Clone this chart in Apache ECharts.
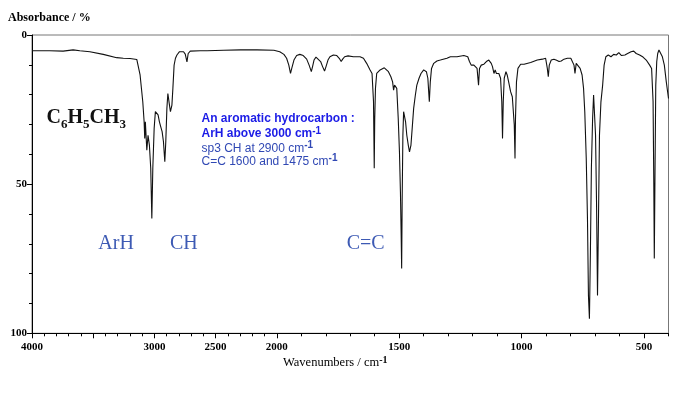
<!DOCTYPE html>
<html>
<head>
<meta charset="utf-8">
<script src="https://cdn.jsdelivr.net/npm/echarts@6/dist/echarts.min.js"></script>
<style>
  html, body { margin: 0; padding: 0; background: #fff; }
  #chart { width: 685px; height: 397px; }
</style>
</head>
<body>
<div id="chart"></div>
<script>
// IR spectrum of toluene, wavenumber (cm-1) vs absorbance (%)
const wavenumbers = [
  4000, 3855, 3746, 3664, 3609, 3527, 3418, 3308, 3254, 3199, 3144, 3139, 3117, 3095, 3084, 3079, 3074, 3062, 3052, 3041,
  3030, 3021, 3013, 3002, 2992, 2980, 2970, 2959, 2948, 2937, 2926, 2915, 2907, 2898, 2890, 2882, 2877, 2869, 2857, 2849,
  2839, 2828, 2816, 2795, 2762, 2748, 2734, 2724, 2707, 2625, 2570, 2434, 2297, 2161, 2024,
  1988, 1971, 1960, 1951, 1944, 1939, 1930, 1919, 1906, 1892, 1878, 1868, 1859, 1854, 1848, 1840, 1832, 1821, 1813, 1805,
  1799, 1791, 1783, 1769, 1755, 1745, 1737, 1731, 1723, 1709, 1687, 1660, 1646, 1633, 1619, 1611, 1605, 1602, 1600, 1597,
  1592, 1585, 1578, 1570, 1561, 1553, 1544, 1534, 1527, 1523, 1519, 1515, 1510, 1504, 1499, 1495, 1492, 1490, 1488, 1485,
  1482, 1478, 1474, 1469, 1463, 1458, 1452, 1447, 1441, 1434, 1428, 1419, 1411, 1400, 1389, 1383, 1377, 1373, 1368, 1359,
  1346, 1332, 1305, 1291, 1264, 1236, 1220, 1213, 1206, 1201, 1195, 1189, 1182, 1176, 1172, 1165, 1154, 1144, 1134, 1124,
  1119, 1113, 1108, 1103, 1097, 1093, 1086, 1081, 1078, 1075, 1071, 1064, 1059, 1053, 1045, 1038, 1034, 1030, 1027, 1025,
  1021, 1015, 1004, 990, 963, 936, 915, 902, 895, 891, 887, 879, 868, 857, 847, 838, 827, 813, 799, 792,
  786, 782, 777, 769, 761, 753, 747, 742, 736, 731, 727, 723, 719, 715, 710, 706, 702, 698, 694, 690,
  686, 682, 676, 669, 663, 656, 646, 635, 624, 613, 603, 592, 578, 567, 553, 542, 532, 518, 504, 491,
  477, 469, 463, 460, 458, 455, 452, 448, 444, 439, 433, 425, 417, 409, 400
];
const absorbance = [
  5.3, 5.3, 5.4, 5.0, 5.3, 5.6, 6.5, 7.6, 7.8, 7.9, 8.2, 8.4, 13.4, 22.4, 29.1, 34.7, 29.1, 38.6, 33.6, 36.9,
  44.7, 61.5, 44.7, 31.3, 25.7, 26.3, 26.8, 29.1, 30.8, 32.4, 35.8, 42.5, 35.8, 24.6, 19.6, 20.1, 23.5, 25.7, 23.5, 17.9,
  10.1, 7.8, 6.7, 5.6, 5.6, 6.4, 9.0, 6.2, 5.4, 5.3, 5.3, 5.1, 5.0, 5.0, 5.1,
  5.6, 6.5, 7.8, 10.1, 12.9, 11.2, 8.4, 6.9, 6.5, 6.9, 8.1, 10.1, 12.3, 10.6, 8.4, 7.4, 7.6, 8.9, 10.6, 12.1,
  10.6, 8.4, 7.3, 6.7, 6.9, 7.8, 8.9, 8.1, 7.3, 7.0, 7.3, 7.3, 7.8, 9.5, 11.7, 12.9, 22.4, 44.7, 28.0, 17.9,
  12.9, 13.4, 11.7, 12.3, 11.0, 11.2, 12.3, 14.0, 15.7, 18.5, 16.8, 16.2, 17.9, 28.0, 39.2, 52.6, 67.1, 78.3, 55.9, 33.6,
  25.7, 26.3, 29.1, 33.6, 36.9, 39.2, 36.9, 31.3, 24.6, 20.1, 16.8, 14.5, 12.9, 11.7, 12.3, 14.5, 22.4, 15.7, 11.2, 9.5,
  8.7, 8.4, 7.8, 7.3, 7.3, 6.9, 7.3, 8.9, 10.1, 10.6, 10.1, 9.8, 11.2, 16.8, 11.2, 10.1, 9.8, 8.9, 8.4, 9.5,
  10.6, 12.9, 11.7, 12.9, 13.4, 12.9, 14.5, 22.4, 34.7, 22.4, 14.5, 12.3, 13.4, 15.7, 19.0, 20.7, 21.3, 30.2, 41.4, 28.0,
  15.7, 11.2, 9.8, 9.8, 9.2, 8.4, 8.1, 7.8, 11.2, 14.0, 10.1, 8.4, 8.1, 8.5, 8.9, 8.7, 8.1, 7.8, 7.8, 7.4,
  10.1, 12.9, 9.5, 10.1, 11.2, 13.4, 17.9, 25.7, 41.4, 61.5, 87.3, 95.1, 72.7, 44.7, 28.0, 20.1, 20.7, 33.6, 55.9, 87.3,
  61.5, 33.6, 22.4, 16.8, 10.1, 7.3, 6.7, 7.3, 6.5, 6.7, 5.9, 6.9, 6.7, 6.2, 5.6, 5.4, 6.2, 6.7, 7.4, 8.4,
  10.1, 11.2, 22.4, 50.3, 74.9, 44.7, 16.8, 8.9, 6.2, 5.0, 5.6, 7.3, 10.1, 15.7, 21.3
];
const xTickLabels = [4000, 3000, 2500, 2000, 1500, 1000, 500];
const xMajorTicks = [4000, 3500, 3000, 2500, 2000, 1500, 1000, 500];
const yTickLabels = [0, 50, 100];

// the wavenumber scale is expanded 2x below 2000 cm-1
function toAxis(w) {
  return w >= 2000 ? 4000 - w : 2000 + 2 * (2000 - w);
}
function fromAxis(u) {
  return u <= 2000 ? 4000 - u : 2000 - (u - 2000) / 2;
}

const xMinorTicks = [];
for (let w = 4000; w >= 400; w -= 100) xMinorTicks.push(toAxis(w));

const serif = "'Liberation Serif', 'Times New Roman', serif";
const sans = "'Liberation Sans', Arial, sans-serif";
const tickFont = { fontFamily: serif, fontWeight: 'bold', fontSize: 11, color: '#000' };

// text line ending with a raised "-1"
function withSup(x, y, txt, family, size, color, bold) {
  return {
    type: 'text', x: x, y: y,
    style: {
      text: '{m|' + txt + '}{s|-1}', verticalAlign: 'middle',
      rich: {
        m: { fontFamily: family, fontWeight: bold ? 'bold' : 'normal', fontSize: size, fill: color, lineHeight: 14, verticalAlign: 'bottom' },
        s: { fontFamily: family, fontWeight: 'bold', fontSize: 10, fill: color, lineHeight: 10, padding: [0, 0, 6, 0], verticalAlign: 'top' }
      }
    }
  };
}

var dom = document.getElementById('chart');
var myChart = echarts.init(dom, null, { renderer: 'canvas' });

var option = {
  animation: false,
  backgroundColor: '#fff',
  grid: {
    left: 32, right: 16.5, top: 35, bottom: 63.7,
    show: true, borderColor: '#777', borderWidth: 1,
    outerBoundsMode: 'none'
  },
  xAxis: [
    {
      type: 'value', position: 'bottom', min: 0, max: 5200,
      axisLine: { show: true, onZero: false, lineStyle: { color: '#000', width: 1 } },
      axisTick: { show: true, length: 5, customValues: xMajorTicks.map(toAxis), lineStyle: { color: '#000' } },
      axisLabel: Object.assign({
        customValues: xTickLabels.map(toAxis),
        formatter: (v) => String(Math.round(fromAxis(v))),
        margin: 8
      }, tickFont),
      splitLine: { show: false }
    },
    {
      type: 'value', position: 'bottom', min: 0, max: 5200,
      axisLine: { show: false, onZero: false },
      axisTick: { show: true, length: 3, customValues: xMinorTicks, lineStyle: { color: '#000' } },
      axisLabel: { show: false },
      splitLine: { show: false }
    }
  ],
  yAxis: [
    {
      type: 'value', position: 'left', inverse: true, min: 0, max: 100, interval: 50,
      axisLine: { show: true, onZero: false, lineStyle: { color: '#000', width: 1 } },
      axisTick: { show: true, length: 5, lineStyle: { color: '#000' } },
      axisLabel: Object.assign({
        customValues: yTickLabels,
        margin: 5
      }, tickFont),
      splitLine: { show: false }
    },
    {
      type: 'value', position: 'left', inverse: true, min: 0, max: 100, interval: 10,
      axisLine: { show: false, onZero: false },
      axisTick: { show: true, length: 3, lineStyle: { color: '#000' } },
      axisLabel: { show: false },
      splitLine: { show: false }
    }
  ],
  series: [
    {
      type: 'line',
      xAxisIndex: 0,
      yAxisIndex: 0,
      showSymbol: false,
      silent: true,
      lineStyle: { color: '#111', width: 1.1 },
      data: wavenumbers.map((w, i) => [toAxis(w), absorbance[i]])
    }
  ],
  graphic: [
    {
      type: 'text', x: 8, y: 18,
      style: { text: 'Absorbance / %', font: 'bold 12px ' + serif, fill: '#000', verticalAlign: 'middle' }
    },
    withSup(283, 362, 'Wavenumbers / cm', serif, 12.5, '#000', false),
    {
      type: 'text', x: 46.5, y: 118,
      style: {
        text: '{m|C}{s|6}{m|H}{s|5}{m|CH}{s|3}', verticalAlign: 'middle',
        rich: {
          m: { fontFamily: serif, fontWeight: 'bold', fontSize: 20, fill: '#111', lineHeight: 26 },
          s: { fontFamily: serif, fontWeight: 'bold', fontSize: 13, fill: '#111', lineHeight: 13, verticalAlign: 'bottom' }
        }
      }
    },
    {
      type: 'text', x: 201.5, y: 118.3,
      style: { text: 'An aromatic hydrocarbon :', font: 'bold 12px ' + sans, fill: '#1c1ce6', verticalAlign: 'middle' }
    },
    withSup(201.5, 133, 'ArH above 3000 cm', sans, 12, '#1c1ce6', true),
    withSup(201.5, 147.3, 'sp3 CH at 2900 cm', sans, 12, '#3048b4', false),
    withSup(201.5, 160.7, 'C=C 1600 and 1475 cm', sans, 12, '#3048b4', false),
    {
      type: 'text', x: 98.3, y: 243.3,
      style: { text: 'ArH', font: '20px ' + serif, fill: '#3d5ab4', verticalAlign: 'middle' }
    },
    {
      type: 'text', x: 170, y: 243.3,
      style: { text: 'CH', font: '20px ' + serif, fill: '#3d5ab4', verticalAlign: 'middle' }
    },
    {
      type: 'text', x: 346.7, y: 243.3,
      style: { text: 'C=C', font: '20px ' + serif, fill: '#3d5ab4', verticalAlign: 'middle' }
    }
  ]
};

myChart.setOption(option);
window.addEventListener('resize', myChart.resize);
</script>
</body>
</html>
